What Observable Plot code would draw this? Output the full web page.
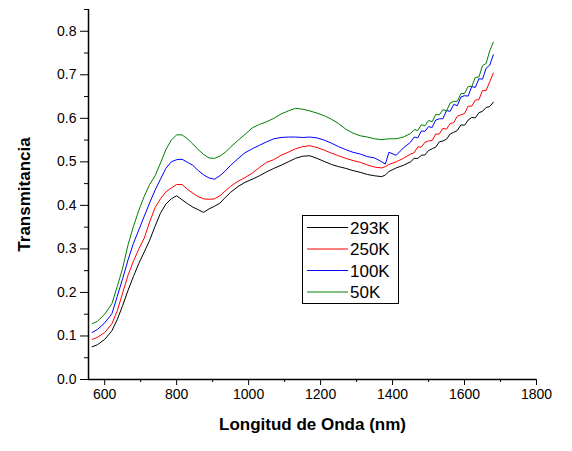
<!DOCTYPE html>
<html><head><meta charset="utf-8">
<script src="https://cdn.jsdelivr.net/npm/d3@7"></script>
<script src="https://cdn.jsdelivr.net/npm/@observablehq/plot@0.6"></script>
<style>
body{margin:0;background:#fff;}
#wrap{position:relative;width:572px;height:451px;font-family:"Liberation Sans",Arial,sans-serif;}
#wrap svg{overflow:visible;}
g[aria-label="x-axis label"] text, g[aria-label="y-axis label"] text{font-weight:bold;font-size:17px;}
#legend{position:absolute;left:302px;top:215px;}
</style></head><body><div id="wrap"></div>
<script>
const wavelengths = [565,580,600,620,635,650,665,680,695,710,725,740,755,770,785,800,815,830,845,860,875,890,905,920,935,950,970,990,1010,1030,1050,1070,1090,1110,1130,1150,1170,1190,1210,1230,1250,1270,1290,1310,1330,1350,1370,1380,1390,1410,1430,1450,1460,1470,1480,1490,1500,1510,1520,1530,1540,1550,1560,1570,1580,1590,1600,1610,1620,1630,1640,1650,1660,1670,1680];
const t293K = [0.075,0.080,0.092,0.112,0.138,0.170,0.205,0.237,0.267,0.293,0.320,0.352,0.382,0.403,0.415,0.422,0.413,0.404,0.396,0.390,0.384,0.392,0.398,0.405,0.418,0.430,0.443,0.453,0.460,0.468,0.477,0.485,0.492,0.500,0.508,0.513,0.514,0.508,0.501,0.494,0.489,0.485,0.480,0.476,0.471,0.468,0.466,0.470,0.478,0.486,0.492,0.500,0.508,0.508,0.515,0.516,0.526,0.530,0.534,0.546,0.548,0.552,0.564,0.568,0.572,0.585,0.584,0.596,0.602,0.601,0.613,0.616,0.625,0.627,0.637];
const t250K = [0.092,0.097,0.108,0.128,0.158,0.199,0.240,0.272,0.300,0.325,0.362,0.395,0.415,0.431,0.440,0.448,0.448,0.437,0.428,0.420,0.415,0.414,0.415,0.422,0.433,0.444,0.455,0.464,0.474,0.487,0.499,0.505,0.515,0.522,0.530,0.535,0.537,0.533,0.527,0.520,0.514,0.508,0.503,0.499,0.493,0.488,0.486,0.489,0.494,0.500,0.508,0.518,0.521,0.534,0.534,0.545,0.548,0.549,0.564,0.564,0.577,0.575,0.588,0.590,0.605,0.608,0.611,0.628,0.628,0.642,0.643,0.664,0.664,0.684,0.704];
const t100K = [0.108,0.115,0.130,0.151,0.191,0.232,0.275,0.313,0.344,0.375,0.406,0.435,0.460,0.485,0.500,0.505,0.506,0.499,0.492,0.480,0.470,0.463,0.460,0.468,0.479,0.492,0.507,0.521,0.530,0.538,0.546,0.553,0.556,0.557,0.557,0.556,0.557,0.555,0.550,0.543,0.535,0.528,0.522,0.518,0.512,0.509,0.500,0.495,0.522,0.515,0.532,0.545,0.557,0.555,0.571,0.570,0.581,0.579,0.596,0.599,0.599,0.618,0.616,0.632,0.629,0.649,0.652,0.651,0.673,0.671,0.691,0.690,0.715,0.722,0.746];
const t50K = [0.128,0.134,0.150,0.174,0.214,0.256,0.310,0.352,0.389,0.421,0.448,0.468,0.497,0.528,0.550,0.562,0.562,0.553,0.541,0.528,0.517,0.509,0.508,0.513,0.522,0.534,0.549,0.563,0.578,0.586,0.592,0.600,0.610,0.617,0.623,0.621,0.617,0.612,0.606,0.598,0.588,0.575,0.566,0.560,0.557,0.553,0.551,0.552,0.553,0.553,0.557,0.565,0.574,0.572,0.585,0.583,0.595,0.592,0.609,0.608,0.620,0.617,0.635,0.639,0.639,0.657,0.657,0.673,0.673,0.694,0.695,0.721,0.726,0.755,0.775];
const seriesNames = ["293K","250K","100K","50K"];
const seriesColors = ["#000000","#ff0000","#0000ff","#008000"];
const xTicks = [600,800,1000,1200,1400,1600,1800];
const xMinor = [700,900,1100,1300,1500,1700];
const yTicks = [0,0.1,0.2,0.3,0.4,0.5,0.6,0.7,0.8];
const yMinor = [0.05,0.15,0.25,0.35,0.45,0.55,0.65,0.75,0.85];
const xTitle = "Longitud de Onda (nm)";
const yTitle = "Transmitancia";

const seriesValues = [t293K, t250K, t100K, t50K];
const rows = [];
seriesNames.forEach((s, k) => wavelengths.forEach((w, i) => rows.push({w, t: seriesValues[k][i], s})));

const chart = Plot.plot({
  width: 572, height: 451,
  marginLeft: 88, marginRight: 36, marginTop: 9, marginBottom: 72,
  x: {domain: [555, 1800]},
  y: {domain: [0, 0.85]},
  color: {domain: seriesNames, range: seriesColors},
  style: {fontFamily: '"Liberation Sans", Arial, sans-serif', fontSize: "14px", color: "#000", background: "#fff"},
  marks: [
    Plot.axisX({ticks: xTicks, tickSize: 6, tickPadding: 4, tickFormat: d3.format("d"), label: xTitle, labelAnchor: "center", labelOffset: 50, labelArrow: "none"}),
    Plot.axisX({ticks: xMinor, tickSize: 3, tickFormat: () => "", label: null}),
    Plot.axisY({ticks: yTicks, tickSize: 8, tickPadding: 4, tickFormat: d3.format(".1f"), label: yTitle, labelAnchor: "center", labelOffset: 71, labelArrow: "none"}),
    Plot.axisY({ticks: yMinor, tickSize: 4, tickFormat: () => "", label: null}),
    Plot.ruleY([0], {strokeWidth: 1.5}),
    Plot.ruleX([555], {strokeWidth: 1.5}),
    Plot.line(rows, {x: "w", y: "t", z: "s", stroke: "s", strokeWidth: 1})
  ]
});
const wrap = document.getElementById("wrap");
wrap.appendChild(chart);

// legend
const lg = d3.select(wrap).append("svg").attr("id", "legend").attr("width", 97).attr("height", 89);
lg.append("rect").attr("x", 0.5).attr("y", 0.5).attr("width", 96).attr("height", 88).attr("fill", "#fff").attr("stroke", "#000");
seriesNames.forEach((s, i) => {
  const y = 12.5 + i * 21.5;
  lg.append("line").attr("x1", 5).attr("x2", 46).attr("y1", y).attr("y2", y).attr("stroke", seriesColors[i]).attr("stroke-width", 1);
  lg.append("text").attr("x", 48).attr("y", y + 6).attr("font-size", 17).attr("font-family", '"Liberation Sans", Arial, sans-serif').text(s);
});
</script></body></html>
